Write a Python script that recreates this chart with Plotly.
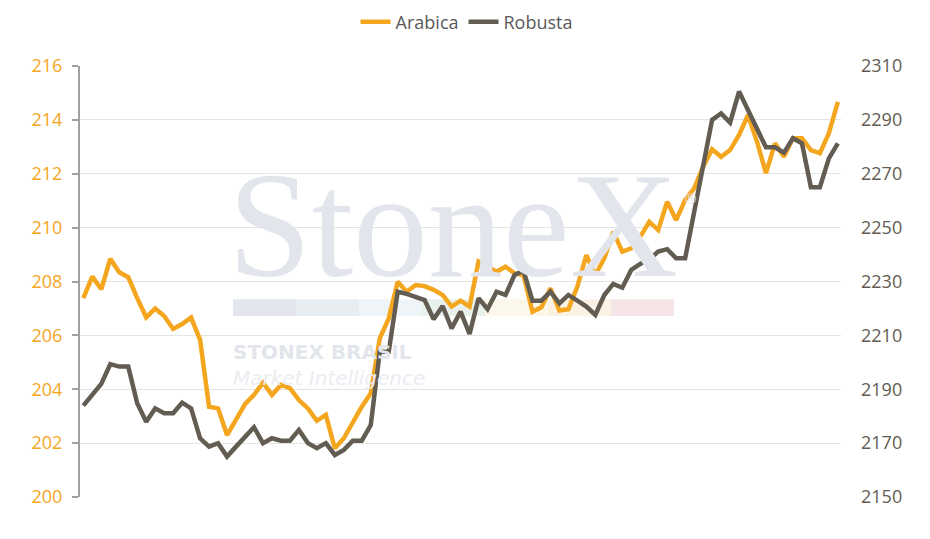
import plotly.graph_objects as go

# Daily prices (85 sessions)
arabica = [
    207.38, 208.18, 207.71, 208.84, 208.34, 208.16, 207.38, 206.67, 207.00, 206.72,
    206.24, 206.42, 206.66, 205.83, 203.35, 203.29, 202.30, 202.86, 203.45, 203.79,
    204.24, 203.79, 204.16, 204.04, 203.60, 203.29, 202.83, 203.05, 201.81, 202.18,
    202.80, 203.35, 203.85, 205.89, 206.63, 207.99, 207.62, 207.87, 207.83, 207.69,
    207.50, 207.07, 207.29, 207.07, 208.74, 208.55, 208.36, 208.55, 208.30, 208.24,
    206.88, 207.04, 207.75, 206.92, 206.97, 207.81, 208.98, 208.24, 208.86, 209.85,
    209.11, 209.23, 209.66, 210.22, 209.91, 210.96, 210.28, 211.03, 211.46, 212.26,
    212.91, 212.63, 212.88, 213.44, 214.18, 213.19, 212.02, 213.13, 212.63, 213.32,
    213.32, 212.88, 212.76, 213.50, 214.67,
]
robusta = [
    2183.9, 2187.9, 2192.0, 2199.3, 2198.4, 2198.4, 2184.8, 2177.9, 2182.9, 2181.1,
    2181.1, 2185.0, 2182.9, 2171.8, 2168.7, 2170.0, 2165.0, 2168.7, 2172.4, 2175.9,
    2170.0, 2171.8, 2170.9, 2170.9, 2174.9, 2170.0, 2168.1, 2170.0, 2165.6, 2167.5,
    2170.9, 2170.9, 2176.7, 2203.9, 2203.9, 2226.2, 2225.4, 2224.4, 2223.1, 2216.0,
    2220.9, 2212.6, 2218.8, 2210.5, 2223.8, 2219.7, 2226.2, 2225.0, 2232.4, 2234.0,
    2222.9, 2222.9, 2226.2, 2221.9, 2225.0, 2222.9, 2220.7, 2217.6, 2225.0, 2229.1,
    2227.7, 2234.3, 2236.5, 2238.2, 2241.1, 2242.0, 2238.6, 2238.6, 2255.7, 2272.9,
    2290.0, 2292.4, 2289.0, 2300.5, 2293.6, 2286.7, 2279.8, 2279.8, 2277.8, 2283.2,
    2281.3, 2265.0, 2265.0, 2275.7, 2281.3,
]
days = list(range(len(arabica)))

left_ticks = [200, 202, 204, 206, 208, 210, 212, 214, 216]
right_ticks = [2150, 2170, 2190, 2210, 2230, 2250, 2270, 2290, 2310]

ORANGE = "#F4A61E"
DARK = "#625C52"
FONT = "Open Sans"

# logo strip colours of the watermark
strip_colors = ["#e3e7ed", "#e8edf2", "#eef4f8", "#e8f1ec", "#fbf7ea", "#fcf2e4", "#f5e5e6"]

fig = go.Figure()
fig.add_trace(go.Scatter(x=days, y=arabica, name="Arabica", mode="lines",
                         line=dict(color=ORANGE, width=4.5)))
fig.add_trace(go.Scatter(x=days, y=robusta, name="Robusta", mode="lines",
                         line=dict(color=DARK, width=4.5), yaxis="y2"))

# watermark
strip_x0, strip_w = 0.201, 0.0828
for i, c in enumerate(strip_colors):
    fig.add_shape(type="rect", xref="paper", yref="paper",
                  x0=strip_x0 + i * strip_w, x1=strip_x0 + (i + 1) * strip_w,
                  y0=0.42, y1=0.459, fillcolor=c, line_width=0, layer="below")

wm = "#e2e6ec"
fig.add_annotation(text="StoneX", xref="paper", yref="paper", x=0.49, y=0.63,
                   showarrow=False, font=dict(family="Liberation Serif", size=150, color=wm))
fig.add_annotation(text="®", xref="paper", yref="paper", x=0.792, y=0.717, xanchor="left",
                   showarrow=False, font=dict(family="Liberation Sans", size=15, color=wm))
fig.add_annotation(text="<b>STONEX BRASIL</b><br><i><span style='color:#eaedf1'>Market Intelligence</span></i>",
                   xref="paper", yref="paper", x=0.199, y=0.244, xanchor="left", align="left",
                   showarrow=False, font=dict(family="DejaVu Sans", size=20, color=wm))

fig.update_layout(
    width=922, height=531,
    margin=dict(l=72, r=89, t=58, b=42, autoexpand=False),
    paper_bgcolor="white", plot_bgcolor="white",
    font=dict(family=FONT, size=18, color="#595959"),
    showlegend=True,
    legend=dict(orientation="h", x=0.508, xanchor="center", y=1.102, yanchor="middle",
                font=dict(size=18, color="#595959"), itemwidth=30),
    xaxis=dict(range=[-0.37, 84.35], showticklabels=False, showgrid=False,
               zeroline=False, showline=False, ticks=""),
    yaxis=dict(range=[200, 216], tickvals=left_ticks, showgrid=True, gridcolor="#e4e4e4",
               gridwidth=1, zeroline=False, showline=True, linecolor="#a0a0a0", linewidth=2,
               ticks="outside", ticklen=6, tickcolor="#a0a0a0", tickwidth=2,
               tickfont=dict(color=ORANGE, size=18), ticklabelstandoff=6),
    yaxis2=dict(range=[2150, 2310], tickvals=right_ticks, overlaying="y", side="right",
                showgrid=False, zeroline=False, showline=False, ticks="",
                tickfont=dict(color=DARK, size=18), ticklabelstandoff=19),
)

fig.write_html("out.html")
